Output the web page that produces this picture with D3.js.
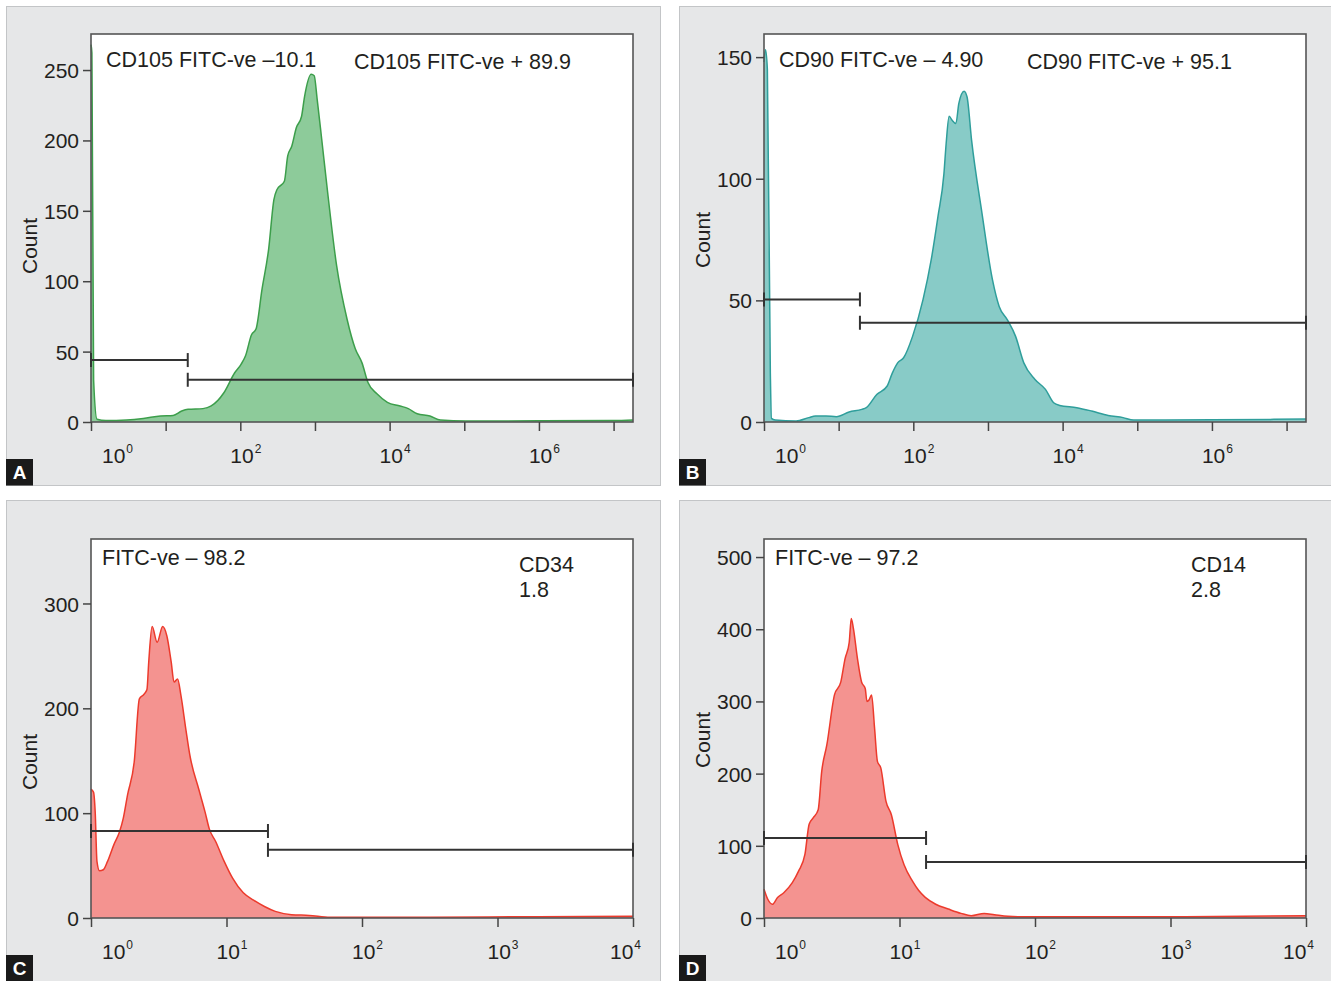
<!DOCTYPE html>
<html><head><meta charset="utf-8">
<script src="https://cdn.jsdelivr.net/npm/d3@7"></script>
<style>
body{margin:0;background:#fff;}
svg{display:block;}
text{font-family:"Liberation Sans",Arial,Helvetica,sans-serif;fill:#231f20;}
</style>
</head><body>
<svg id="c" width="1331" height="981"></svg>
<script>
// ---------- DATA (log10 fluorescence intensity, count) ----------
const cd105Exp   = [0,0.012,0.035,0.08,0.2,0.477,0.7,0.93,1.10,1.215,1.30,1.5,1.61,1.78,1.925,2.01,2.07,2.15,2.21,2.29,2.38,2.45,2.49,2.59,2.635,2.69,2.75,2.82,2.86,2.95,2.99,3.03,3.09,3.17,3.29,3.43,3.54,3.63,3.71,3.83,3.97,4.14,4.25,4.37,4.54,4.68,5.02,6.0,7.0,7.26];
const cd105Count = [268,262,30,2,1.0,1.4,2.5,4.3,4.7,7.8,9,9.5,11.4,20.8,35,41,47,62,66,94,123,158,165,171,189,196,209,217,231,247,246,229,201,163,111,73,52,42,28,20,14,11.4,9.5,5.9,4.3,1.4,0.7,0.8,1.0,1.4];

const cd90Exp   = [0,0.02,0.045,0.085,0.1,0.15,0.43,0.6,0.69,0.83,0.97,1.14,1.31,1.37,1.51,1.65,1.72,1.79,1.87,1.99,2.13,2.24,2.33,2.41,2.44,2.48,2.52,2.57,2.61,2.68,2.72,2.78,2.92,3.06,3.15,3.26,3.37,3.48,3.63,3.77,3.88,3.96,4.19,4.39,4.61,4.81,4.95,6.0,7.26];
const cd90Count = [148,153,145,20,1.5,0.8,0.4,1.8,2.5,2.5,2.2,4.1,5.2,5.9,11.3,14.8,20.2,24.3,26.4,35.2,50.3,66.7,84.4,102,114.5,125.7,124,122.7,131,136,133.6,116,85.8,58.5,47.5,42,35.2,24.3,17.5,13.4,7.9,6.8,5.9,4.5,2.7,1.8,0.8,0.9,1.2];

const cd34Exp   = [0,0.019,0.031,0.044,0.063,0.091,0.122,0.169,0.21,0.238,0.269,0.319,0.357,0.388,0.413,0.426,0.451,0.488,0.529,0.56,0.592,0.613,0.639,0.664,0.70,0.73,0.795,0.842,0.873,0.92,0.983,1.045,1.124,1.20,1.28,1.36,1.48,1.61,1.765,2.5,3.3,4.0];
const cd34Count = [123,120,101,54,45,46,54,70,82,95,117,149,209,213,218,244,278,263,278,269,244,225,228,212,180,155,123,101,85,73,54,38,24,17,11,6.3,3.2,2.5,0.6,0.8,1.2,1.6];

const cd14Exp   = [0,0.028,0.062,0.1,0.146,0.209,0.255,0.302,0.333,0.364,0.40,0.426,0.464,0.52,0.567,0.598,0.629,0.644,0.66,0.69,0.72,0.747,0.76,0.775,0.794,0.816,0.837,0.862,0.9,0.94,0.987,1.033,1.096,1.142,1.19,1.267,1.36,1.454,1.53,1.625,1.70,1.8,1.89,3.0,4.0];
const cd14Count = [40,26,19,28.5,35,49,65,88,130,139,150,203,240,309,327,359,382,415,401,359,327,318,300,302,309,263,217,208,162,143,102,74,51,38,28.5,19,12.4,6.4,3.2,6.4,4.6,2.3,1.8,1.8,3];

// axis ticks
const yTicksA = [0,50,100,150,200,250];
const yTicksB = [0,50,100,150];
const yTicksC = [0,100,200,300];
const yTicksD = [0,100,200,300,400,500];
const xTickExpsAB = [0,1,2,3,4,5,6,7];
const xLabelExpsAB = [0,2,4,6];
const xTickExpsCD = [0,1,2,3,4];
const xLabelExpsCD = [0,1,2,3,4];

// gates: [split exponent, left-gate count, right-gate count]
const gateA = [1.296, 44, 30];
const gateB = [1.285, 50.4, 40.8];
const gateC = [1.306, 83, 65];
const gateD = [1.196, 110.8, 77.6];

// annotation texts
const textsA = ["CD105 FITC-ve \u201310.1", "CD105 FITC-ve + 89.9"];
const textsB = ["CD90 FITC-ve \u2013 4.90", "CD90 FITC-ve + 95.1"];
const textsC = ["FITC-ve \u2013 98.2", "CD34", "1.8"];
const textsD = ["FITC-ve \u2013 97.2", "CD14", "2.8"];

// ---------- LAYOUT ----------
const panels = [
  {letter:"A", box:[6.5,6.5,654,479], l:91, r:633, t:34, b:422, xMaxExp:7.26, yMax:275.6,
   yTicks:yTicksA, xTicks:xTickExpsAB, xLabels:xLabelExpsAB, exp:cd105Exp, count:cd105Count,
   fill:"#8dcb9a", stroke:"#3c9e4b", gate:gateA, countY:246,
   texts:textsA, textPos:[[106,67],[354,69]]},
  {letter:"B", box:[679.5,6.5,652,479], l:764, r:1306, t:34, b:422, xMaxExp:7.26, yMax:159.5,
   yTicks:yTicksB, xTicks:xTickExpsAB, xLabels:xLabelExpsAB, exp:cd90Exp, count:cd90Count,
   fill:"#88cbc7", stroke:"#2f9e9b", gate:gateB, countY:240,
   texts:textsB, textPos:[[779,67],[1027,69]]},
  {letter:"C", box:[6.5,500.5,654,481], l:91, r:633, t:539, b:918, xMaxExp:4, yMax:361.5,
   yTicks:yTicksC, xTicks:xTickExpsCD, xLabels:xLabelExpsCD, exp:cd34Exp, count:cd34Count,
   fill:"#f49390", stroke:"#ec3a2c", gate:gateC, countY:762,
   texts:textsC, textPos:[[102,565],[519,572],[519,597]]},
  {letter:"D", box:[679.5,500.5,652,481], l:764, r:1306, t:539, b:918, xMaxExp:4, yMax:525,
   yTicks:yTicksD, xTicks:xTickExpsCD, xLabels:xLabelExpsCD, exp:cd14Exp, count:cd14Count,
   fill:"#f49390", stroke:"#ec3a2c", gate:gateD, countY:740,
   texts:textsD, textPos:[[775,565],[1191,572],[1191,597]]}
];

const svg = d3.select("#c");
svg.append("rect").attr("width",1331).attr("height",981).attr("fill","#fff");

panels.forEach(p => {
  const g = svg.append("g");
  g.append("rect").attr("x",p.box[0]).attr("y",p.box[1]).attr("width",p.box[2]).attr("height",p.box[3])
    .attr("fill","#e6e7e8").attr("stroke","#c3c5c7").attr("stroke-width",1);

  const x = d3.scaleLog().domain([1, Math.pow(10,p.xMaxExp)]).range([p.l,p.r]);
  const y = d3.scaleLinear().domain([0,p.yMax]).range([p.b,p.t]);

  g.append("rect").attr("x",p.l).attr("y",p.t).attr("width",p.r-p.l).attr("height",p.b-p.t).attr("fill","#fff");

  const pts = p.exp.map((e,i)=>({v:Math.pow(10,e), c:p.count[i]}));
  const area = d3.area().x(d=>x(d.v)).y0(y(0)).y1(d=>y(d.c)).curve(d3.curveMonotoneX);
  const line = d3.line().x(d=>x(d.v)).y(d=>y(d.c)).curve(d3.curveMonotoneX);
  g.append("path").datum(pts).attr("d",area).attr("fill",p.fill);
  g.append("path").datum(pts).attr("d",line).attr("fill","none").attr("stroke",p.stroke).attr("stroke-width",1.5);

  // frame
  g.append("rect").attr("x",p.l).attr("y",p.t).attr("width",p.r-p.l).attr("height",p.b-p.t)
    .attr("fill","none").attr("stroke","#555").attr("stroke-width",1.6);

  // y axis
  const ya = d3.axisLeft(y).tickValues(p.yTicks).tickSize(8).tickPadding(4).tickFormat(d3.format("d"));
  const yg = g.append("g").attr("transform",`translate(${p.l},0)`).call(ya);
  yg.select(".domain").remove();
  yg.selectAll(".tick line").attr("stroke","#444").attr("stroke-width",1.5);
  yg.selectAll(".tick text").attr("font-size",21).attr("fill","#231f20")
    .attr("font-family",'"Liberation Sans",Arial,sans-serif').attr("dy","0.36em");

  // x axis ticks
  const xa = d3.axisBottom(x).tickValues(p.xTicks.map(e=>Math.pow(10,e))).tickSize(9).tickFormat("");
  const xg = g.append("g").attr("transform",`translate(0,${p.b})`).call(xa);
  xg.select(".domain").remove();
  xg.selectAll(".tick line").attr("stroke","#444").attr("stroke-width",1.5);

  // x labels 10^n
  const last = p.xLabels[p.xLabels.length-1];
  p.xLabels.forEach((e,i) => {
    let dx = -10;
    if (i===0) dx = 11;
    else if (e===p.xMaxExp) dx = -23;
    const t = g.append("text").attr("x", x(Math.pow(10,e))+dx).attr("y", p.b+41).attr("font-size",21);
    t.append("tspan").text("10");
    t.append("tspan").attr("font-size",12).attr("dx",1).attr("dy",-10).text(e);
  });

  // Count label
  const cx = p.l - 54;
  g.append("text").attr("transform",`translate(${cx},${p.countY}) rotate(-90)`)
    .attr("text-anchor","middle").attr("font-size",21).text("Count");

  // gates
  const gs = Math.pow(10,p.gate[0]);
  const gates = [[1,gs,p.gate[1]],[gs,Math.pow(10,p.xMaxExp),p.gate[2]]];
  gates.forEach(gt => {
    const gy = y(gt[2]);
    g.append("line").attr("x1",x(gt[0])).attr("x2",x(gt[1])).attr("y1",gy).attr("y2",gy)
      .attr("stroke","#333").attr("stroke-width",2);
    [gt[0],gt[1]].forEach(v => {
      g.append("line").attr("x1",x(v)).attr("x2",x(v)).attr("y1",gy-7).attr("y2",gy+7)
        .attr("stroke","#333").attr("stroke-width",2);
    });
  });

  // annotations
  p.texts.forEach((s,i)=>{
    g.append("text").attr("x",p.textPos[i][0]).attr("y",p.textPos[i][1]).attr("font-size",21.5).text(s);
  });

  // panel letter
  const lx = p.box[0]-0.5, ly = p.box[1]+p.box[3]-26.5;
  g.append("rect").attr("x",lx).attr("y",ly).attr("width",27).attr("height",26.5).attr("fill","#1a1a1a");
  g.append("text").attr("x",lx+13.5).attr("y",ly+20).attr("text-anchor","middle")
    .attr("font-size",19).attr("font-weight","bold").style("fill","#fff").text(p.letter);
});
</script>
</body></html>
